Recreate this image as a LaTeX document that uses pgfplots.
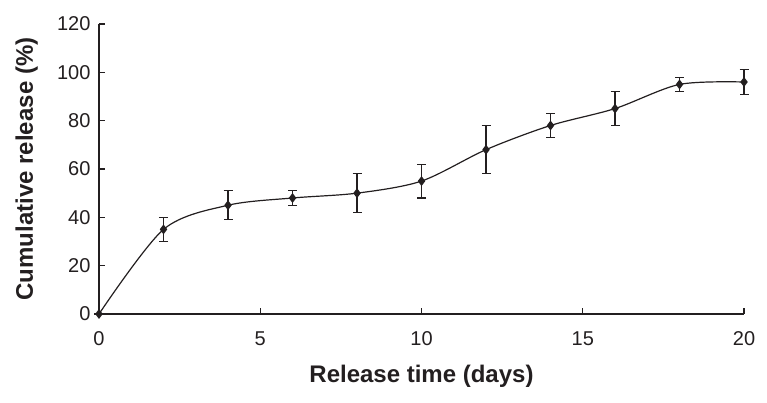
\documentclass[border=0pt]{standalone}
\usepackage{pgfplots}
\pgfplotsset{compat=1.18}
\usepackage{fontspec}
\setmainfont{Liberation Sans}
\definecolor{ink}{HTML}{231F20}

\begin{document}
\begin{tikzpicture}
\begin{axis}[
    scale only axis,
    width=645pt, height=290pt,
    xmin=0, xmax=20, ymin=0, ymax=120,
    axis lines*=left,
    axis line style={ink, line width=1.3pt},
    xtick={0,5,10,15,20}, ytick={0,20,...,120},
    tick style={ink, line width=1.1pt},
    tick align=inside,
    major tick length=6pt,
    tick label style={font=\fontsize{20}{20}\selectfont, text=ink},
    /pgf/number format/assume math mode=true,
    xticklabel style={yshift=-14pt},
    yticklabel style={xshift=-5pt},
    xlabel={\textbf{Release time (days)}},
    ylabel={\textbf{Cumulative release (\%)}},
    label style={font=\fontsize{24}{24}\selectfont, text=ink},
    xlabel style={at={([yshift=-68pt]axis description cs:0.5,0)}, anchor=base},
    ylabel style={at={([xshift=-66pt]axis description cs:0,0.5)}, anchor=base, rotate=0},
    clip=false,
]
\coordinate (o) at (axis cs:0,0);
\addplot[ink, line width=1.2pt, smooth, tension=0.5,
    mark=diamond*, mark size=4pt, mark options={fill=ink},
    error bars/.cd, y dir=both, y explicit,
    error bar style={ink, line width=1.1pt},
    error mark options={rotate=90, mark size=4.5pt, ink, line width=1.1pt}]
coordinates {
    (0,0) +- (0,0)
    (2,35) +- (0,5)
    (4,45) +- (0,6)
    (6,48) +- (0,3)
    (8,50) +- (0,8)
    (10,55) +- (0,7)
    (12,68) +- (0,10)
    (14,78) +- (0,5)
    (16,85) +- (0,7)
    (18,95) +- (0,3)
    (20,96) +- (0,5)
};
\end{axis}
\pgfresetboundingbox
\path ([shift={(-99pt,-89pt)}]o) rectangle ++(767pt,403pt);
\end{tikzpicture}
\end{document}
